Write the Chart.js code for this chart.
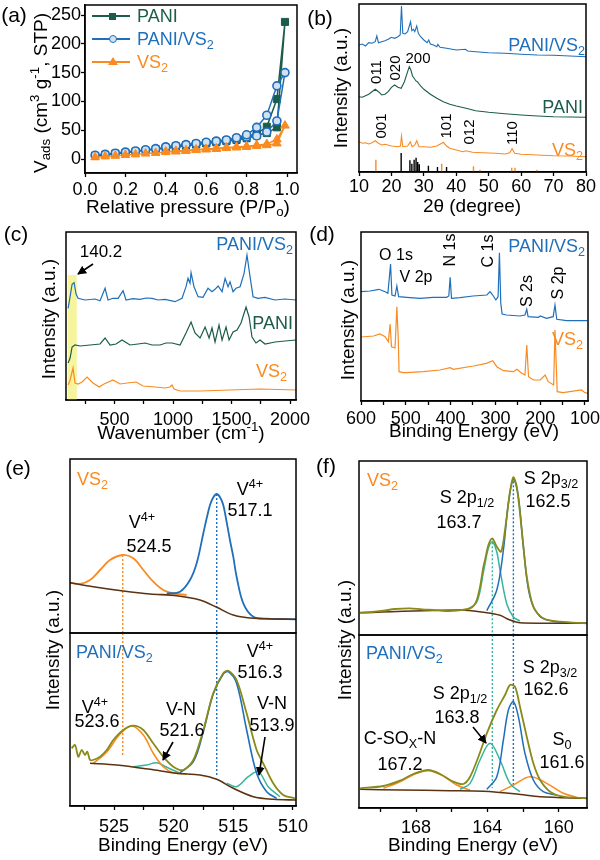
<!DOCTYPE html>
<html><head><meta charset="utf-8">
<script src="https://cdn.jsdelivr.net/npm/chart.js@4.4.0/dist/chart.umd.min.js"></script>
<style>
body{margin:0;background:#fff;}
#fig{position:relative;width:600px;height:860px;overflow:hidden;font-family:'Liberation Sans',Arial,sans-serif;color:#000;background:#fff;}
#fig canvas{position:absolute;}
.t{position:absolute;white-space:nowrap;line-height:1;}
.t sub{font-size:0.7em;vertical-align:-0.28em;line-height:0;}
.t sup{font-size:0.7em;vertical-align:0.55em;line-height:0;}
.m{position:absolute;}
</style></head><body><div id="fig"></div>
<script>
// ================= DATA =================
// (a) N2 isotherms  (P/Po, Vads)
const aPressureAds = [0.05,0.10,0.15,0.20,0.25,0.30,0.35,0.40,0.45,0.50,0.55,0.60,0.65,0.70,0.75,0.80,0.85,0.90,0.95,0.99];
const aPressureDes = [0.95,0.90,0.85,0.80,0.75,0.70,0.65,0.60,0.55,0.50,0.45,0.40];
const aPaniAds   = [5.5,7.5,9.5,11,13,15,17,19,21,23,25,27,29,31,33,36,41,45,55,238];
const aPaniDes   = [104,56,44,39,35,32,30,28,26,24,22,20];
const aPaniVs2Ads= [6.5,8,10,12,14,16,18,20,22,24,26,28,30,32,35,38,40,47,66,150];
const aPaniVs2Des= [127,76,55,42,37,33,31,29,27,25,23,21];
const aVs2Ads    = [3,4.5,5.5,7,8,9.5,10.5,12,13,14,15.5,16.5,17.5,19,20,21,22.5,24,27,58];
const aVs2Des    = [34,26,24,22,21,20,18.5,17.5,16.5,15,14,13];
const aXTicks = [0,0.2,0.4,0.6,0.8,1.0];
const aYTicks = [0,50,100,150,200,250];

// (b) XRD  [2theta, intensity a.u.]
const bPaniVs2 = [[10,127],[11,128],[12,126],[13,129.3],[14,128.7],[15,130.3],[15.5,136],[16,129.3],[17,130.3],[18,131.3],[19,132.7],[20,134.7],[21,133.7],[22,135.3],[22.7,137],[23.1,166],[23.5,138.7],[24.2,138],[25,140.3],[25.6,147],[25.9,150.3],[26.3,141.3],[26.8,142.7],[27.2,140.3],[27.8,146],[28.3,138.7],[29,135.3],[30,132],[31,129.3],[31.5,132],[32,128],[33,127],[34,125.3],[34.3,127.7],[35,124.7],[37,123.7],[40,122],[42.8,122.7],[43.5,121],[46,120.3],[50,119.3],[55,118.7],[60,117.7],[65,117],[70,116.7],[75,116],[80,115.3]];
const bPani = [[10,75.3],[11,74.7],[12,76.3],[13,77.7],[14,80.3],[15,82.7],[16,80.3],[17,77],[18,77.7],[19,80.3],[20,84.7],[21,87],[22,84.7],[23,83.7],[24,90.3],[25,100.3],[25.5,105.3],[26,102],[26.5,96],[27,93.7],[27.5,91.3],[28,90.3],[29,86],[30,82.7],[31,80.3],[32,77.7],[34,73.7],[36,70.3],[38,67.7],[40,66],[43,63.7],[46,61.3],[50,59.7],[55,58.3],[60,57],[65,56],[70,55.3],[75,55],[80,54.7]];
const bVs2 = [[10,30.3],[11,28.7],[12,29.3],[13,28],[14,29.3],[15,31.3],[16,28.7],[17,27],[18,27.7],[20,26],[22,25.3],[22.8,26],[23.1,36],[23.5,25.3],[25,26],[25.8,30.3],[26.4,25.3],[27.2,27],[27.8,31.3],[28.5,25.3],[30,25.3],[32,24.7],[34,26],[35.5,28.7],[36,29.7],[37,26],[38,23.7],[40,22],[42,20.3],[43,21.3],[45,19.7],[48,19.3],[52,18.7],[55,18],[56.5,19.3],[57.2,23.3],[58,18.7],[60,17.7],[65,17],[70,16.3],[75,16],[80,15.3]];
const bRefPaniPos = [23.0,25.7,26.3,27.0,27.6,28.1,28.6,31.4,34.2,37.0];
const bRefPaniH   = [19,11.7,8.3,12.3,14.3,10,7.7,6.3,5,5];
const bRefVs2Pos  = [15.2,35.5,45.3,47.3,57.1,58.1,64.9];
const bRefVs2H    = [12.3,8.3,5.7,2.3,4.3,4.3,2.3];
const bXTicks = [10,20,30,40,50,60,70,80];

// (c) Raman [wavenumber, intensity a.u.]
const cPaniVs2 = [[103,91.7],[120,103.3],[137,115.7],[154,117.3],[171,106],[188,101.7],[248,100],[333,101],[376,99.3],[419,111.7],[444,100],[487,101.7],[530,101.7],[573,109.3],[598,100],[658,101.3],[718,100.7],[770,102],[821,101.7],[872,100],[932,100.7],[1017,98.3],[1077,101.7],[1111,113.3],[1128,121.7],[1145,116.7],[1154,127.3],[1179,113.3],[1214,103.3],[1256,102.7],[1299,111.7],[1333,108.3],[1359,110.7],[1385,114],[1419,108.3],[1445,121.7],[1470,113.3],[1487,118.3],[1513,108.3],[1538,111.7],[1573,113.3],[1607,126.7],[1632,145],[1658,123.3],[1684,103.3],[1726,101.7],[1786,102.7],[1872,100],[1957,101],[2051,100]];
const cPani = [[103,37],[120,42],[137,53],[162,55],[205,54],[291,55],[376,56],[419,62],[462,55],[513,56],[564,60],[632,55],[701,56],[761,57],[821,55],[889,55],[940,57],[991,57],[1060,55],[1111,67],[1154,78],[1188,67],[1231,62],[1274,73],[1308,62],[1333,72],[1359,58],[1393,75],[1419,60],[1453,73],[1479,60],[1513,68],[1547,70],[1581,77],[1624,93],[1650,83],[1675,63],[1709,57],[1744,60],[1786,56],[1872,58],[1957,59],[2051,60]];
const cVs2 = [[103,15],[120,20],[145,32],[162,17],[188,16],[222,18],[265,23],[316,17],[368,13],[410,16],[487,20],[547,16],[607,17],[684,18],[744,14],[846,13],[932,12],[974,13],[991,15],[1009,11],[1060,9],[1231,9],[1487,10],[1744,11],[2051,10]];
const cBand = [100, 177, 125]; // highlighted range: from, to, height
const cXTicks = [250,500,750,1000,1250,1500,1750,2000];
const cXLabeled = [500,1000,1500,2000];

// (d) XPS survey [binding energy, intensity a.u.]
const dPaniVs2 = [[600,109.3],[580,110],[560,111.7],[546,109.3],[540,107.7],[534,137],[531,106],[524,105],[520,115],[516,104.3],[498,103.7],[468,102.7],[439,103.7],[409,103.7],[404,105],[401,123.7],[398,102.7],[379,103.3],[350,105],[319,106],[312,109.3],[306,106],[299,101],[294,104.3],[291,148.3],[288,97.7],[285,87],[275,86],[245,85],[234,86],[230,91.7],[227,84.3],[204,83.7],[200,85],[186,82.7],[171,84.3],[167,96],[163,81.7],[141,80.3],[95,80.3]];
const dVs2 = [[600,64],[572,65],[558,67],[546,64.3],[539,59.3],[535,77],[532,54.3],[524,53],[520,94.3],[517,64.3],[515,29.3],[506,28.3],[498,28.3],[461,29.3],[424,31],[401,33.3],[394,31.7],[349,35],[320,37.7],[306,40.3],[297,34.3],[282,30.3],[260,29.3],[252,31.7],[241,27.7],[234,26],[230,56],[226,24.3],[215,21],[200,21],[189,26],[182,19.3],[170,16],[167,71],[162,9.3],[149,8.3],[108,11],[100,8.3],[93,7.7]];
const dXTicks = [600,550,500,450,400,350,300,250,200,150,100];
const dXLabeled = [600,500,400,300,200,100];

// (e) V 2p  [binding energy, intensity a.u.]
const eTopBg = [[528.69,50.3],[526.74,46.3],[524.22,42],[521.98,39],[519.74,37.3],[517.79,33],[516.39,25.7],[515.0,18],[513.32,14.7],[509.74,13.7]];
const eTopV524 = [[528.69,50.3],[527.85,49],[527.01,53],[526.17,63],[525.34,73],[524.27,78],[523.38,74.7],[522.54,63],[521.71,51.3],[520.87,43],[520.03,39.7],[518.91,38]];
const eTopV517 = [[520.58,39.7],[519.47,41.3],[518.63,53],[518.07,69.7],[517.51,99.7],[517.23,114.7],[516.95,128],[516.67,135.7],[516.39,139],[516.11,135.7],[515.84,128],[515.56,111.3],[515.28,93],[515.0,76.3],[514.72,56.3],[514.16,29.7],[513.32,16.3],[512.2,14.3],[509.74,13.7]];
const eTopMarks = [524.27, 78, 516.39, 139];
const eBotBg = [[527.01,42.7],[524.77,41],[521.98,36.7],[519.74,32.7],[517.79,31],[516.39,26.7],[515.0,17.7],[513.32,9.3],[511.65,6.7],[509.74,6]];
const eBotEnv = [[528.55,57.7],[528.27,61],[527.99,49.3],[527.71,56],[527.43,51],[527.24,54.3],[527.01,46],[526.76,46],[526.17,49.3],[525.61,56],[525.06,66],[524.22,76],[523.38,80.3],[522.54,76],[521.71,62.7],[520.87,49.3],[520.03,39.3],[519.19,36],[518.35,46],[517.51,76],[516.68,112.7],[515.84,132.7],[515.42,135.3],[514.72,126],[513.88,92.7],[513.04,56],[512.49,42.7],[511.65,22.7],[510.81,11],[509.83,7.7]];
const eBotV523 = [[526.74,42.7],[525.61,54],[524.5,72],[523.52,80],[522.54,71],[521.71,52.7],[520.87,39.3],[520.03,33.3],[518.91,32]];
const eBotVN521 = [[523.38,39.3],[522.26,41],[521.42,43.3],[520.58,38.7],[519.47,32.7]];
const eBotV516 = [[519.47,33.3],[518.35,44.3],[517.51,74.3],[516.68,112],[515.84,132],[515.42,134.3],[514.72,122.7],[513.88,76],[513.04,32.7],[512.2,14.3],[511.36,7.7]];
const eBotVN513 = [[515.55,22.7],[514.72,19.3],[513.74,29.3],[512.9,34.3],[512.07,19.3],[511.09,9.3]];
const eBotMarks = [524.27, 51, 516.39, 29];
const eXTicks = [527.5,525,522.5,520,517.5,515,512.5,510];
const eXLabeled = [525,520,515,510];

// (f) S 2p  [binding energy, intensity a.u.]
const fTopEnv = [[171.14,22.3],[170.47,23],[169.83,24.3],[169.18,26],[168.34,26.7],[167.66,25.5],[167.03,25],[166.37,24],[165.72,24.3],[164.97,26.7],[164.78,29],[164.59,35],[164.41,48.3],[164.22,68.3],[164.13,75],[163.94,90],[163.72,96.7],[163.47,88.3],[163.23,83.3],[163.01,105],[162.73,143.3],[162.54,157.7],[162.35,148.3],[162.07,105],[161.79,58.3],[161.42,28.3],[160.86,16.7],[159.92,13.3],[158.43,11.7]];
const fTopS12 = [[165.16,25],[164.59,33],[164.22,63],[163.94,87],[163.72,93.3],[163.47,83],[163.29,65],[162.91,31],[162.54,18],[162.17,14]];
const fTopS32 = [[164.03,24.3],[163.47,45],[163.1,85],[162.82,131.7],[162.54,155.7],[162.26,138.3],[161.98,88.3],[161.61,38.3],[161.04,18.3],[160.11,13.3],[158.43,11.7]];
const fTopBg = [[171.14,22.3],[165.53,25],[164.03,22.3],[163.29,19.7],[162.73,15],[162.17,12.3],[158.43,11.7]];
const fTopMarks = [163.72, 96.7, 162.54, 157.7];
const fBotEnv = [[171.14,19.7],[169.83,22],[168.9,27.3],[168.15,34],[167.31,38],[166.65,34],[165.91,26.3],[165.35,24],[164.97,31.3],[164.5,51.3],[164.03,74.7],[163.47,98],[163.01,113],[162.73,123],[162.45,121.3],[162.17,101.3],[161.79,71.3],[161.42,44.7],[161.04,28],[160.48,16.3],[159.74,11.3],[158.43,9.7]];
const fBotBg = [[171.14,18.7],[168.9,18],[166.09,17.3],[164.22,16.7],[162.35,14],[161.04,11.3],[158.43,9.7]];
const fBotCSO = [[169.83,19.7],[168.9,26.3],[168.15,33.3],[167.31,37.3],[166.47,32],[165.72,23],[164.97,18]];
const fBotS12 = [[165.53,18.7],[164.97,24.7],[164.41,48],[163.85,64.7],[163.29,48],[162.73,24.7],[162.17,16.3]];
const fBotS32 = [[164.03,18.7],[163.47,31.3],[163.1,68],[162.82,98],[162.54,106.3],[162.26,91.3],[161.89,54.7],[161.42,28],[160.86,16.3],[160.11,13]];
const fBotS0 = [[163.29,16.3],[162.54,23],[161.61,31.3],[160.67,24.7],[159.74,14.7],[158.99,10.7]];
const fBotMarks = [163.72, 20, 162.54, 21];
const fXTicks = [170,168,166,164,162,160];
const fXLabeled = [168,164,160];

// ================= RENDER =================
const C = {blue:'#1f6fba', green:'#1b5c4b', orange:'#f98b22', olive:'#8a8a1a', teal:'#36b59a', brown:'#5b3212', black:'#000'};
Chart.defaults.font.family = "'Liberation Sans', Arial, sans-serif";
Chart.defaults.color = '#000';
const fig = document.getElementById('fig');

const framePlugin = {id:'frame', afterDatasetsDraw(ch){
  const {ctx, chartArea:a} = ch; ctx.save(); ctx.strokeStyle='#000'; ctx.lineWidth=1.5;
  ctx.strokeRect(a.left, a.top, a.right-a.left, a.bottom-a.top); ctx.restore(); }};

const P = {left:30, right:30, top:20, bottom:10};
const XH = 34;

function xy(arr){ return arr.map(p => ({x:p[0], y:p[1]})); }
function ln(arr, color, w, extra){ return Object.assign({data: xy(arr), borderColor: color, borderWidth: w, pointRadius: 0, fill: false, tension: 0}, extra||{}); }
function sticks(pos, h){ const out=[]; pos.forEach((x,i)=>{ out.push({x, y:0}, {x, y:h[i]}, {x, y:null}); }); return out; }
function mark(x, y0, y1, color){ return {data:[{x, y:y0},{x, y:y1}], borderColor: color, borderWidth: 1.4, borderDash:[2,2], pointRadius:0, fill:false}; }

function panel(o){
  const [L,T,R,B] = o.box;
  const yW = o.yW || 0;
  const xh = o.x.show ? XH : 0;
  const w = (R-L) + P.left + P.right + yW;
  const h = (B-T) + P.top + P.bottom + xh;
  const cv = document.createElement('canvas');
  cv.width = w; cv.height = h;
  cv.style.left = (L - P.left - yW) + 'px'; cv.style.top = (T - P.top) + 'px';
  cv.style.width = w + 'px'; cv.style.height = h + 'px';
  fig.appendChild(cv);
  const xo = o.x;
  const xScale = {type:'linear', min: xo.min, max: xo.max, reverse: !!xo.reverse, display: !!xo.show};
  if (xo.show) {
    const lab = xo.labeled || xo.ticks;
    Object.assign(xScale, {
      afterBuildTicks: s => { s.ticks = xo.ticks.map(v => ({value: v})); },
      afterFit: s => { s.height = XH; },
      ticks:{autoSkip:false, maxRotation:0, minRotation:0, color:'#000', font:{size:18}, padding: xo.pad,
        callback: v => lab.some(u => Math.abs(u - v) < 1e-6) ? (xo.dec ? Number(v).toFixed(xo.dec) : String(v)) : ''},
      grid:{drawOnChartArea:false, drawTicks:true, tickLength:4, tickColor:'#000', tickWidth:1.3},
      border:{display:true, color:'#000', width:1.5}
    });
  }
  const yo = o.y;
  const yScale = {type:'linear', min: yo.min, max: yo.max, display: !!yo.show};
  if (yo.show) {
    Object.assign(yScale, {
      afterBuildTicks: s => { s.ticks = yo.ticks.map(v => ({value: v})); },
      ticks:{autoSkip:false, color:'#000', font:{size:18}, padding:0, callback: v => String(v)},
      grid:{drawOnChartArea:false, drawTicks:true, tickLength:4, tickColor:'#000', tickWidth:1.3},
      border:{display:true, color:'#000', width:1.5},
      afterFit: s => { s.width = yW; }
    });
  }
  return new Chart(cv, {
    type:'line',
    data:{datasets: o.datasets},
    options:{responsive:false, animation:false, devicePixelRatio:1, events:[],
      layout:{padding:P},
      plugins:{legend:{display:false}, tooltip:{enabled:false}},
      scales:{x:xScale, y:yScale}},
    plugins:[framePlugin].concat(o.plugins||[])
  });
}

// (a)
const aAllP = aPressureAds.concat(aPressureDes);
panel({box:[85,5,297,173], yW:50,
  x:{show:true, min:0, max:1.0495, ticks:aXTicks, dec:1, pad:2},
  y:{show:true, min:-24.3, max:267.4, ticks:aYTicks},
  datasets:[
    {data: xy(aAllP.map((p,i)=>[p, aVs2Ads.concat(aVs2Des)[i]])), borderColor:C.orange, borderWidth:1.5, pointStyle:'triangle', pointRadius:5, pointBackgroundColor:C.orange, pointBorderColor:C.orange, pointBorderWidth:1, fill:false},
    {data: xy(aAllP.map((p,i)=>[p, aPaniVs2Ads.concat(aPaniVs2Des)[i]])), borderColor:C.blue, borderWidth:1.5, pointStyle:'circle', pointRadius:4, pointBackgroundColor:'#cfe1f3', pointBorderColor:C.blue, pointBorderWidth:1.6, fill:false},
    {data: xy(aAllP.map((p,i)=>[p, aPaniAds.concat(aPaniDes)[i]])), borderColor:C.green, borderWidth:1.5, pointStyle:'rect', pointRadius:5, pointBackgroundColor:C.green, pointBorderColor:C.green, pointBorderWidth:1, fill:false}
  ]});

// (b)
panel({box:[359,4,586,172],
  x:{show:true, min:10, max:80, ticks:bXTicks, pad:0},
  y:{min:0, max:168},
  datasets:[
    ln(bPaniVs2, C.blue, 1.1), ln(bPani, C.green, 1.1), ln(bVs2, C.orange, 1.1),
    {data: sticks(bRefPaniPos, bRefPaniH), borderColor:'#000', borderWidth:1.4, pointRadius:0, spanGaps:false, fill:false},
    {data: sticks(bRefVs2Pos, bRefVs2H), borderColor:C.orange, borderWidth:1.4, pointRadius:0, spanGaps:false, fill:false}
  ]});

// (c)
panel({box:[66,232,296,400],
  x:{show:true, min:85, max:2051, ticks:cXTicks, labeled:cXLabeled, pad:5},
  y:{min:0, max:168},
  datasets:[ln(cPaniVs2, C.blue, 1.2), ln(cPani, C.green, 1.2), ln(cVs2, C.orange, 1.2)],
  plugins:[{id:'band', beforeDatasetsDraw(ch){ const ctx = ch.ctx, x = ch.scales.x, y = ch.scales.y; ctx.save(); ctx.fillStyle='#f6f49c';
    const x0 = x.getPixelForValue(cBand[0]), x1 = x.getPixelForValue(cBand[1]); const y0 = y.getPixelForValue(cBand[2]), y1 = y.getPixelForValue(0);
    ctx.fillRect(x0, y0, x1-x0, y1-y0); ctx.restore(); }}]
});

// (d)
panel({box:[361,232,588,401],
  x:{show:true, min:93.3, max:600, ticks:dXTicks, labeled:dXLabeled, reverse:true, pad:3},
  y:{min:0, max:169},
  datasets:[ln(dPaniVs2, C.blue, 1.2), ln(dVs2, C.orange, 1.2)]});

// (e)
panel({box:[70,459,296,633],
  x:{show:false, min:509.74, max:528.69, reverse:true},
  y:{min:0, max:174},
  datasets:[ln(eTopBg, C.brown, 1.6, {tension:0.3}), ln(eTopV517, C.blue, 1.8, {tension:0.35}), ln(eTopV524, C.orange, 1.8, {tension:0.35}),
    mark(eTopMarks[0], eTopMarks[1], 0, C.orange), mark(eTopMarks[2], eTopMarks[3], 0, C.blue)]});
panel({box:[70,633,296,806],
  x:{show:true, min:509.74, max:528.69, ticks:eXTicks, labeled:eXLabeled, reverse:true, pad:6},
  y:{min:0, max:173},
  datasets:[ln(eBotEnv, C.olive, 1.8, {tension:0.3}), ln(eBotBg, C.brown, 1.6, {tension:0.3}), ln(eBotV516, C.blue, 1.6, {tension:0.35}), ln(eBotV523, C.orange, 1.6, {tension:0.35}),
    ln(eBotVN521, C.teal, 1.5, {tension:0.35}), ln(eBotVN513, C.teal, 1.5, {tension:0.35}),
    mark(eBotMarks[0], 173, eBotMarks[1], C.orange), mark(eBotMarks[2], 173, eBotMarks[3], C.blue)]});

// (f)
panel({box:[359,461,587,635],
  x:{show:false, min:158.41, max:171.2, reverse:true},
  y:{min:0, max:174},
  datasets:[ln(fTopEnv, C.olive, 1.8, {tension:0.3}), ln(fTopBg, C.brown, 1.5, {tension:0.3}), ln(fTopS32, C.blue, 1.5, {tension:0.35}), ln(fTopS12, C.teal, 1.5, {tension:0.35}),
    mark(fTopMarks[0], fTopMarks[1], 0, C.teal), mark(fTopMarks[2], fTopMarks[3], 0, C.blue)]});
panel({box:[359,635,587,808],
  x:{show:true, min:158.41, max:171.2, ticks:fXTicks, labeled:fXLabeled, reverse:true, pad:5},
  y:{min:0, max:173},
  datasets:[ln(fBotEnv, C.olive, 1.8, {tension:0.3}), ln(fBotBg, C.brown, 1.5, {tension:0.3}), ln(fBotS32, C.blue, 1.5, {tension:0.35}), ln(fBotS12, C.teal, 1.5, {tension:0.35}),
    ln(fBotS0, C.orange, 1.5, {tension:0.35}), ln(fBotCSO, C.orange, 1.5, {tension:0.35}),
    mark(fBotMarks[0], 173, fBotMarks[1], C.teal), mark(fBotMarks[2], 173, fBotMarks[3], C.blue)]});

// ================= TEXT =================
function txt(html, x, y, size, color, rot, anchor){
  const d = document.createElement('div'); d.className = 't'; d.innerHTML = html;
  d.style.left = x + 'px'; d.style.top = y + 'px'; d.style.fontSize = size + 'px'; d.style.color = color || '#000';
  const tx = anchor === 'l' ? '0' : anchor === 'r' ? '-100%' : '-50%';
  d.style.transform = 'translate(' + tx + ',-50%)' + (rot ? ' rotate(' + rot + 'deg)' : '');
  fig.appendChild(d);
}
const PV = 'PANI/VS<sub>2</sub>', VS = 'VS<sub>2</sub>', INT = 'Intensity (a.u.)', BE = 'Binding Energy (eV)';
const V4 = 'V<sup>4+</sup>';
const labels = [
  ['(a)',14,14,21], ['(b)',320,17,21], ['(c)',16,233,21], ['(d)',322,233,21], ['(e)',18,467,21], ['(f)',326,465,21],
  ['V<sub>ads</sub> (cm<sup>3</sup> g<sup>-1</sup>, STP)',40,93,19,'#000',-90],
  ['Relative pressure (P/P<sub>o</sub>)',188,206,19],
  ['PANI',137,16,18,C.green,0,'l'], [PV,137,39,18,C.blue,0,'l'], [VS,137,62,18,C.orange,0,'l'],
  [INT,340,88,19,'#000',-90], ['2θ (degree)',472,205,19],
  [PV,585,45,18,C.blue,0,'r'], ['PANI',583,107,18,C.green,0,'r'], [VS,583,150,18,C.orange,0,'r'],
  ['011',375,72,15,'#000',-90], ['020',394,68,15,'#000',-90], ['200',418,57,15],
  ['001',380,126,15,'#000',-90], ['101',445,126,15,'#000',-90], ['012',468,132,15,'#000',-90], ['110',511,133,15,'#000',-90],
  [INT,48,319,19,'#000',-90], ['Wavenumber (cm<sup>-1</sup>)',181,432,19],
  ['140.2',101,251,17], [PV,293,244,18,C.blue,0,'r'], ['PANI',293,323,18,C.green,0,'r'], [VS,287,371,18,C.orange,0,'r'],
  [INT,347,320,19,'#000',-90], [BE,474,430,19],
  ['O 1s',396,255,16], ['V 2p',416,277,16], ['N 1s',450,250,16,'#000',-90], ['C 1s',488,251,16,'#000',-90],
  [PV,585,246,18,C.blue,0,'r'], ['S 2s',527,291,16,'#000',-90], ['S 2p',558,283,16,'#000',-90], [VS,583,339,18,C.orange,0,'r'],
  [INT,52,650,19,'#000',-90], [BE,183,844,19],
  [VS,77,479,18,C.orange,0,'l'], [V4,142,522,18], ['524.5',149,546,18], [V4,250,489,18], ['517.1',250,510,18],
  [PV,76,652,18,C.blue,0,'l'], [V4,95,707,18], ['523.6',97,721,18], ['V-N',181,709,18], ['521.6',182,730,18],
  [V4,260,651,18], ['516.3',260,672,18], ['V-N',272,703,18], ['513.9',272,725,18],
  [INT,344,640,19,'#000',-90], [BE,473,844,19],
  [VS,367,480,18,C.orange,0,'l'], ['S 2p<sub>1/2</sub>',467,497,18], ['163.7',459,522,18], ['S 2p<sub>3/2</sub>',551,478,18], ['162.5',548,501,18],
  [PV,366,653,18,C.blue,0,'l'], ['S 2p<sub>3/2</sub>',550,667,18], ['162.6',546,689,18], ['S 2p<sub>1/2</sub>',460,693,18], ['163.8',457,717,18],
  ['C-SO<sub>X</sub>-N',400,738,18], ['167.2',400,764,18], ['S<sub>0</sub>',562,739,18], ['161.6',562,762,18]
];
labels.forEach(l => txt(l[0], l[1], l[2], l[3], l[4], l[5], l[6]));

// legend markers for (a)
function box(css){ const d = document.createElement('div'); d.className = 'm'; Object.assign(d.style, css); fig.appendChild(d); }
[[16,C.green],[39,C.blue],[62,C.orange]].forEach(([y,c]) => box({left:'92px', top:(y-0.75)+'px', width:'38px', height:'1.5px', background:c}));
box({left:'108.5px', top:'12.5px', width:'7px', height:'7px', background:C.green});
box({left:'108.5px', top:'34.5px', width:'6px', height:'6px', border:'1.6px solid '+C.blue, borderRadius:'50%', background:'#cfe1f3'});
box({left:'107.5px', top:'57px', width:'0', height:'0', borderLeft:'5px solid transparent', borderRight:'5px solid transparent', borderBottom:'8.5px solid '+C.orange});

// arrows
const arrows = [[93,264,78,274],[173,742,163,760],[265,737,259,775],[473,727,486,743]];
const ns = 'http://www.w3.org/2000/svg';
const svg = document.createElementNS(ns, 'svg');
svg.setAttribute('width', 600); svg.setAttribute('height', 860);
svg.style.position = 'absolute'; svg.style.left = '0'; svg.style.top = '0';
svg.innerHTML = '<defs><marker id="ah" markerUnits="userSpaceOnUse" markerWidth="9" markerHeight="9" refX="8" refY="4.5" orient="auto"><path d="M0,0 L9,4.5 L0,9 z" fill="#000"/></marker></defs>';
arrows.forEach(a => { const l = document.createElementNS(ns, 'line'); l.setAttribute('x1', a[0]); l.setAttribute('y1', a[1]); l.setAttribute('x2', a[2]); l.setAttribute('y2', a[3]); l.setAttribute('stroke', '#000'); l.setAttribute('stroke-width', '1.6'); l.setAttribute('marker-end', 'url(#ah)'); svg.appendChild(l); });
fig.appendChild(svg);
</script></body></html>
